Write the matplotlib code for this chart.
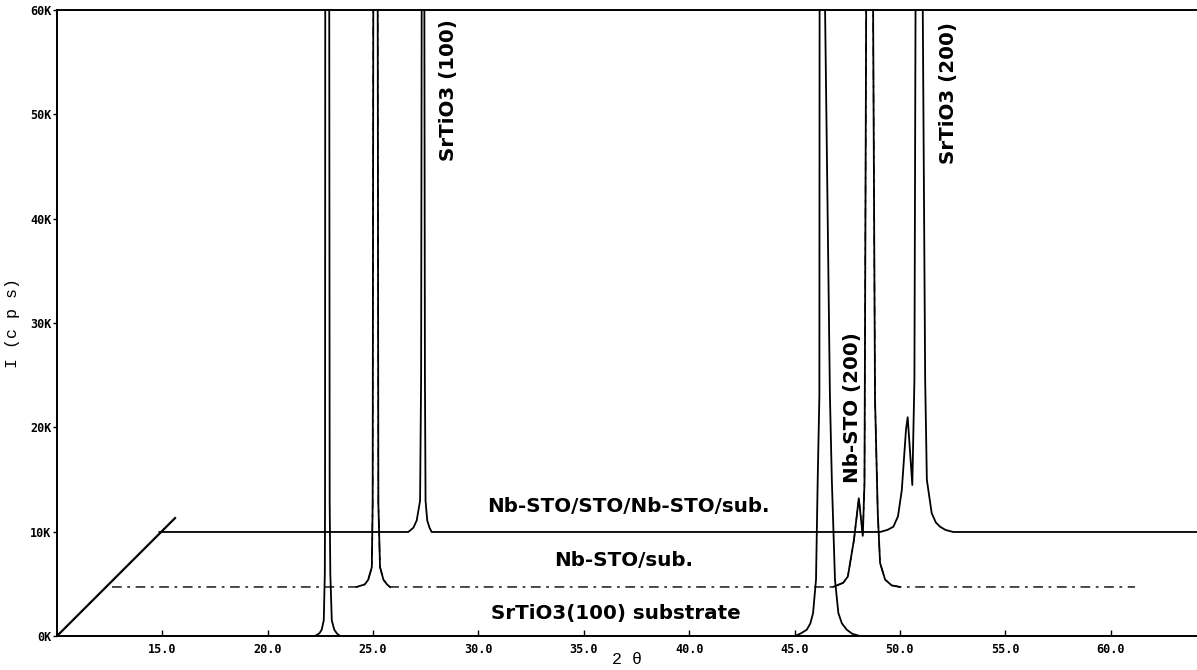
import numpy as np
import matplotlib
matplotlib.use("Agg")
import matplotlib.pyplot as plt

# XRD scans, 2theta (deg) and intensity (cps), each in its own frame
sub_tt = [10.3, 16.0, 22.24, 22.45, 22.56, 22.66, 22.71, 22.72, 22.73, 22.82, 22.92, 22.94, 22.97,
          23.04, 23.16, 23.28, 23.43, 35.0, 45.03, 45.30, 45.58, 45.75, 45.88, 46.02, 46.10, 46.18,
          46.19, 46.31, 46.45, 46.68, 46.77, 46.92, 47.08, 47.25, 47.48, 47.75, 48.11, 60.0]
sub_i = [0, 0, 0, 250, 600, 1500, 6000, 13000, 60000, 95000, 60000, 13000, 6000,
         1500, 600, 250, 0, 0, 0, 250, 600, 1200, 2200, 5400, 15000, 23000,
         60000, 95000, 60000, 23000, 15000, 5400, 2200, 1200, 600, 200, 0, 0]

mid_tt = [10.3, 16.0, 21.91, 22.30, 22.46, 22.63, 22.67, 22.70, 22.81, 22.91, 22.94, 23.02, 23.18,
          23.35, 23.49, 30.0, 40.0, 44.52, 45.00, 45.22, 45.51, 45.74, 45.93, 46.01, 46.09, 46.25,
          46.42, 46.51, 46.64, 46.75, 46.99, 47.30, 47.70, 52.0, 58.85]
mid_i = [0, 0, 0, 250, 700, 1900, 8000, 55000, 95000, 55000, 8000, 1900, 700,
         250, 0, 0, 0, 0, 400, 1000, 4500, 8500, 4900, 10000, 55000, 95000,
         55000, 18000, 7100, 2300, 700, 150, 0, 0, 0]

top_tt = [10.3, 16.0, 22.11, 22.35, 22.51, 22.67, 22.72, 22.75, 22.81, 22.87, 22.90, 22.93, 23.01,
          23.12, 23.22, 35.0, 44.50, 44.85, 45.13, 45.35, 45.53, 45.73, 45.81, 46.03, 46.13, 46.19,
          46.35, 46.51, 46.64, 46.72, 46.95, 47.15, 47.35, 47.60, 47.97, 60.0]
top_i = [0, 0, 0, 400, 1100, 3000, 15000, 55000, 95000, 55000, 15000, 3000, 1100,
         400, 0, 0, 0, 200, 500, 1500, 4000, 9800, 11000, 4500, 14600, 55000,
         95000, 55000, 14600, 5000, 1800, 900, 500, 200, 0, 0]

# waterfall offsets (2theta shift, intensity shift)
mid_dx, mid_dy = 2.31, 4700
top_dx, top_dy = 4.56, 9970

# depth axis of the waterfall
diag_x = [10.0, 15.6]
diag_y = [0, 11300]

xticks = [15, 20, 25, 30, 35, 40, 45, 50, 55, 60]
yticks = [0, 10000, 20000, 30000, 40000, 50000, 60000]

fig = plt.figure(figsize=(11.97, 6.70), dpi=100)
ax = fig.add_axes([57 / 1197, 34 / 670, 1140 / 1197, 626 / 670])

ax.plot(sub_tt, sub_i, color="k", lw=1.3)

mx = np.array(mid_tt) + mid_dx
my = np.array(mid_i) + mid_dy
ax.plot(mx, my, color="k", lw=1.0, linestyle=(0, (7, 4, 2, 4)))
nz = np.array(mid_i) > 0
keep = nz | np.roll(nz, 1) | np.roll(nz, -1)
ax.plot(mx, np.where(keep, my, np.nan), color="k", lw=1.3)

ax.plot(np.array(top_tt) + top_dx, np.array(top_i) + top_dy, color="k", lw=1.3)

ax.plot(diag_x, diag_y, color="k", lw=1.6)

ax.set_xlim(10, 64.1)
ax.set_ylim(0, 60000)
ax.spines["right"].set_visible(False)
for s in ["top", "left", "bottom"]:
    ax.spines[s].set_linewidth(1.4)

tickfont = {"family": ["DejaVu Sans Mono"], "weight": "bold", "size": 8.5}
ax.set_xticks(xticks)
ax.set_xticklabels(["%.1f" % v for v in xticks], fontdict=tickfont)
ax.set_yticks(yticks)
ax.set_yticklabels(["%dK" % (v // 1000) for v in yticks], fontdict=tickfont)
ax.tick_params(axis="x", direction="in", length=4, width=1, pad=5)
ax.tick_params(axis="y", direction="out", length=3, width=1, pad=1)

labfont = {"family": ["Liberation Mono", "DejaVu Sans Mono"], "size": 12}
ax.set_xlabel("2 θ", fontdict=labfont)
ax.xaxis.set_label_coords(0.5, -0.025)
ax.set_ylabel("I (c p s)", fontdict=labfont)
ax.yaxis.set_label_coords(-37 / 1140, 0.5)

ann = {"family": "DejaVu Sans", "weight": "bold", "size": 14.3, "ha": "center", "va": "center"}
ax.text(28.56, 52350, "SrTiO3 (100)", rotation=90, **ann)
ax.text(52.29, 52060, "SrTiO3 (200)", rotation=90, **ann)
ax.text(47.73, 21860, "Nb-STO (200)", rotation=90, **ann)
ax.text(37.1, 12370, "Nb-STO/STO/Nb-STO/sub.", **ann)
ax.text(36.91, 7190, "Nb-STO/sub.", **ann)
ax.text(36.53, 2110, "SrTiO3(100) substrate", **ann)

fig.savefig("out.png", dpi=100)
